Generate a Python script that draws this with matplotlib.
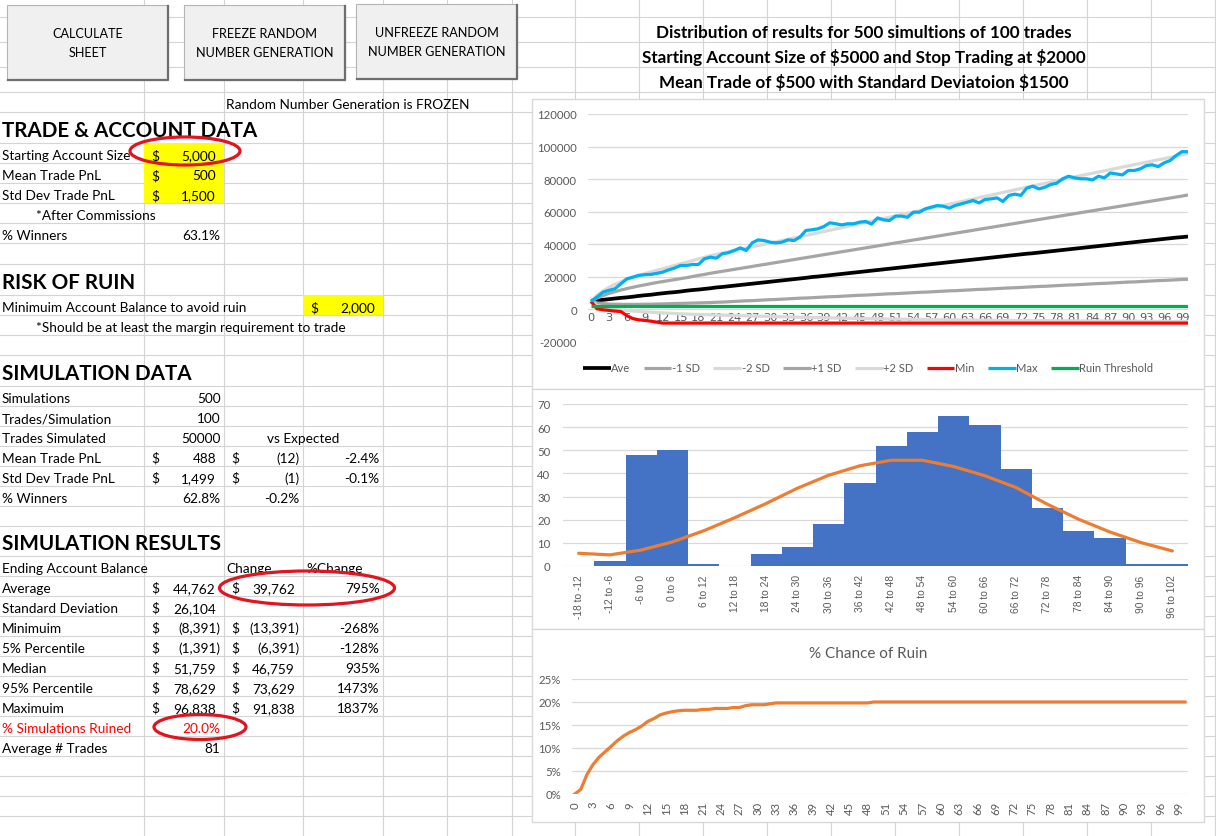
import matplotlib
matplotlib.use("Agg")
import matplotlib.pyplot as plt
from matplotlib.patches import Rectangle, Ellipse

plt.rcParams["text.parse_math"] = False

# ------------------------------------------------------------------ data
trade_num = list(range(101))
ave = [5000, 5500, 5900, 6300, 6700, 7100, 7400, 7800, 8300, 8700,
       9000, 9500, 9900, 10300, 10600, 11000, 11500, 11900, 12200, 12600,
       13000, 13500, 13800, 14200, 14600, 15000, 15400, 15800, 16200, 16600,
       17000, 17400, 17800, 18200, 18600, 19000, 19400, 19900, 20200, 20600,
       21000, 21400, 21800, 22200, 22600, 23000, 23400, 23800, 24200, 24600,
       25000, 25400, 25800, 26200, 26600, 27000, 27400, 27800, 28200, 28600,
       29000, 29400, 29800, 30200, 30600, 31000, 31400, 31800, 32200, 32600,
       33000, 33400, 33800, 34200, 34500, 34900, 35300, 35700, 36100, 36500,
       36900, 37300, 37700, 38100, 38500, 38900, 39300, 39700, 40100, 40500,
       40900, 41300, 41700, 42100, 42500, 42900, 43300, 43700, 44100, 44400,
       44762]
minus_1sd = [5000, 4000, 3600, 3300, 3200, 3100, 3100, 3100, 3100, 3200,
             3200, 3300, 3400, 3500, 3600, 3700, 3800, 3900, 4000, 4100,
             4200, 4400, 4500, 4700, 4900, 5100, 5300, 5400, 5600, 5800,
             6000, 6100, 6300, 6500, 6700, 6900, 7000, 7200, 7400, 7600,
             7800, 7900, 8100, 8300, 8500, 8700, 8800, 9000, 9200, 9400,
             9600, 9700, 9900, 10100, 10300, 10500, 10600, 10800, 11000, 11200,
             11400, 11500, 11700, 11900, 12100, 12300, 12400, 12600, 12800, 13000,
             13200, 13300, 13500, 13700, 13900, 14100, 14200, 14400, 14600, 14800,
             15000, 15100, 15300, 15500, 15700, 15900, 16000, 16200, 16400, 16600,
             16800, 16900, 17100, 17300, 17500, 17700, 17800, 18000, 18200, 18400,
             18500]
minus_2sd = [5000, 2500, 1400, 600, 0, -400, -700, -1000, -1300, -1500,
             -1700, -1900, -2100, -2300, -2500, -2700, -2800, -3000, -3100, -3200,
             -3300, -3400, -3500, -3600, -3700, -3800, -3900, -4000, -4100, -4200,
             -4300, -4400, -4500, -4600, -4700, -4800, -4900, -5000, -5000, -5100,
             -5200, -5300, -5300, -5400, -5500, -5500, -5600, -5700, -5700, -5800,
             -5900, -5900, -6000, -6000, -6100, -6100, -6200, -6200, -6300, -6300,
             -6400, -6400, -6500, -6500, -6500, -6600, -6600, -6600, -6700, -6700,
             -6700, -6800, -6800, -6800, -6900, -6900, -6900, -6900, -7000, -7000,
             -7000, -7000, -7100, -7100, -7100, -7100, -7100, -7200, -7200, -7200,
             -7200, -7200, -7300, -7300, -7300, -7300, -7300, -7300, -7400, -7400,
             -7400]
plus_1sd = [5000, 7000, 8500, 9800, 10900, 11900, 12800, 13600, 14400, 15100,
            15800, 16500, 17100, 17700, 18300, 18900, 19500, 20200, 20900, 21500,
            22200, 22800, 23400, 24000, 24600, 25200, 25800, 26400, 27000, 27600,
            28200, 28800, 29400, 30000, 30600, 31200, 31800, 32400, 33000, 33600,
            34200, 34800, 35400, 36000, 36600, 37200, 37800, 38400, 39000, 39600,
            40200, 40800, 41400, 42000, 42600, 43200, 43800, 44400, 45000, 45600,
            46200, 46800, 47400, 48000, 48600, 49200, 49800, 50400, 51000, 51600,
            52200, 52800, 53400, 54000, 54600, 55200, 55800, 56400, 57000, 57600,
            58200, 58800, 59400, 60000, 60600, 61200, 61800, 62400, 63000, 63600,
            64200, 64800, 65400, 66000, 66600, 67200, 67800, 68400, 69000, 69600,
            70300]
plus_2sd = [5000, 8600, 11300, 13500, 15400, 17000, 18400, 19700, 20900, 22000,
            23000, 24000, 25000, 26000, 27000, 28000, 29000, 30000, 31000, 32000,
            33000, 33800, 34600, 35400, 36100, 36900, 37700, 38500, 39200, 40000,
            40800, 41500, 42300, 43100, 43900, 44700, 45500, 46200, 47000, 47800,
            48600, 49400, 50200, 51000, 51800, 52600, 53400, 54200, 55000, 55800,
            56600, 57400, 58200, 59000, 59800, 60600, 61400, 62200, 63000, 63800,
            64600, 65400, 66200, 67000, 67800, 68600, 69400, 70200, 71000, 71800,
            72600, 73400, 74200, 75000, 75800, 76600, 77400, 78200, 79000, 79800,
            80600, 81400, 82100, 82900, 83600, 84400, 85100, 85900, 86600, 87400,
            88100, 88900, 89600, 90400, 91100, 91900, 92600, 93400, 94100, 94900,
            95700]
min_bal = [5000, 400, -200, -600, -1000, -1300, -3800, -5600, -6400, -6700,
           -7200, -7800, -8391, -8391, -8391, -8391, -8391, -8391, -8391, -8391,
           -8391, -8391, -8391, -8391, -8391, -8391, -8391, -8391, -8391, -8391,
           -8391, -8391, -8391, -8391, -8391, -8391, -8391, -8391, -8391, -8391,
           -8391, -8391, -8391, -8391, -8391, -8391, -8391, -8391, -8391, -8391,
           -8391, -8391, -8391, -8391, -8391, -8391, -8391, -8391, -8391, -8391,
           -8391, -8391, -8391, -8391, -8391, -8391, -8391, -8391, -8391, -8391,
           -8391, -8391, -8391, -8391, -8391, -8391, -8391, -8391, -8391, -8391,
           -8391, -8391, -8391, -8391, -8391, -8391, -8391, -8391, -8391, -8391,
           -8391, -8391, -8391, -8391, -8391, -8391, -8391, -8391, -8391, -8391,
           -8391]
max_bal = [5000, 7600, 10600, 11700, 12700, 15700, 18800, 19800, 20900, 21300,
           21500, 22100, 22900, 24300, 25400, 27000, 27000, 27600, 27600, 31100,
           32100, 31500, 34200, 34800, 36200, 37800, 36200, 40900, 42700, 42300,
           41300, 40900, 41300, 42700, 42300, 44400, 48500, 48900, 49500, 50900,
           53200, 52600, 51900, 52600, 52600, 53600, 54000, 52400, 56200, 55000,
           54600, 57300, 57300, 56600, 59700, 59700, 61800, 62800, 63800, 63400,
           62200, 63800, 64800, 65800, 66900, 65400, 67500, 67900, 68500, 66300,
           70000, 70800, 70000, 74500, 75700, 74000, 75000, 76700, 77500, 80200,
           81800, 80800, 80200, 80200, 79500, 81800, 80800, 83800, 83200, 82600,
           85300, 85300, 86300, 88300, 88800, 87700, 90000, 91400, 94500, 96900,
           96838]
ruin_level = 2000
series_names = ["Ave", "-1 SD", "-2 SD", "+1 SD", "+2 SD", "Min", "Max", "Ruin Threshold"]
series_colors = ["#000000", "#a5a5a5", "#d9d9d9", "#a5a5a5", "#d9d9d9", "#ff0000", "#00b0f0", "#00b050"]

hist_bins = ["-18 to -12", "-12 to -6", "-6 to 0", "0 to 6", "6 to 12", "12 to 18",
             "18 to 24", "24 to 30", "30 to 36", "36 to 42", "42 to 48", "48 to 54",
             "54 to 60", "60 to 66", "66 to 72", "72 to 78", "78 to 84", "84 to 90",
             "90 to 96", "96 to 102"]
hist_counts = [0, 2, 48, 50, 1, 0, 5, 8, 18, 36, 52, 58, 65, 61, 42, 25, 15, 12, 1, 1]
hist_normal = [5.5, 4.8, 6.9, 10.4, 15.2, 20.9, 27.0, 33.6, 39.2, 43.3,
               45.7, 45.7, 43.0, 39.0, 33.9, 26.7, 20.2, 14.7, 10.1, 6.5]

ruin_pct = [0.000, 0.010, 0.042, 0.064, 0.080, 0.092, 0.104, 0.116, 0.126, 0.134,
            0.140, 0.148, 0.158, 0.164, 0.172, 0.176, 0.179, 0.181, 0.182, 0.182,
            0.182, 0.184, 0.184, 0.186, 0.186, 0.186, 0.188, 0.188, 0.192, 0.194,
            0.194, 0.194, 0.196, 0.198, 0.198, 0.198, 0.198, 0.198, 0.198, 0.198,
            0.198, 0.198, 0.198, 0.198, 0.198, 0.198, 0.198, 0.198, 0.198, 0.200,
            0.200, 0.200, 0.200, 0.200, 0.200, 0.200, 0.200, 0.200, 0.200, 0.200,
            0.200, 0.200, 0.200, 0.200, 0.200, 0.200, 0.200, 0.200, 0.200, 0.200,
            0.200, 0.200, 0.200, 0.200, 0.200, 0.200, 0.200, 0.200, 0.200, 0.200,
            0.200, 0.200, 0.200, 0.200, 0.200, 0.200, 0.200, 0.200, 0.200, 0.200,
            0.200, 0.200, 0.200, 0.200, 0.200, 0.200, 0.200, 0.200, 0.200, 0.200,
            0.200]
ruin_title = "% Chance of Ruin"

buttons = ["CALCULATE\nSHEET", "FREEZE RANDOM\nNUMBER GENERATION", "UNFREEZE RANDOM\nNUMBER GENERATION"]
status_text = "Random Number Generation is FROZEN"
title_lines = ["Distribution of results for 500 simultions of 100 trades",
               "Starting Account Size of $5000 and Stop Trading at $2000",
               "Mean Trade of $500 with Standard Deviatoion $1500"]

headers = ["TRADE & ACCOUNT DATA", "RISK OF RUIN", "SIMULATION DATA", "SIMULATION RESULTS"]
trade_labels = ["Starting Account Size", "Mean Trade PnL", "Std Dev Trade PnL"]
trade_inputs = ["5,000", "500", "1,500"]
commission_note = "*After Commissions"
winners_label, winners_value = "% Winners", "63.1%"
ruin_label, ruin_input = "Minimuim Account Balance to avoid ruin", "2,000"
margin_note = "*Should be at least the margin requirement to trade"
sim_labels = ["Simulations", "Trades/Simulation", "Trades Simulated",
              "Mean Trade PnL", "Std Dev Trade PnL", "% Winners"]
sim_values = ["500", "100", "50000", "$488", "$1,499", "62.8%"]
sim_vs_amount = [None, None, None, "$(12)", "$(1)", "-0.2%"]
sim_vs_pct = [None, None, None, "-2.4%", "-0.1%", None]
vs_expected = "vs Expected"
res_head = ["Ending Account Balance", "Change", "%Change"]
res_labels = ["Average", "Standard Deviation", "Minimuim", "5% Percentile",
              "Median", "95% Percentile", "Maximuim"]
res_values = ["44,762", "26,104", "(8,391)", "(1,391)", "51,759", "78,629", "96,838"]
res_change = ["39,762", None, "(13,391)", "(6,391)", "46,759", "73,629", "91,838"]
res_pct = ["795%", None, "-268%", "-128%", "935%", "1473%", "1837%"]
ruined_label, ruined_value = "% Simulations Ruined", "20.0%"
avgtr_label, avgtr_value = "Average # Trades", "81"

# ------------------------------------------------------------------ layout
W, H = 1216, 837
FONT = "Lato"
FS = 9.8
GRID = "#d4d4d4"
TXT = "#595959"
TICK = 8.2
fig = plt.figure(figsize=(W / 100, H / 100), dpi=100)
sheet = fig.add_axes([0, 0, 1, 1])
sheet.set_xlim(0, W)
sheet.set_ylim(H, 0)
sheet.axis("off")

cols = [144, 224, 303, 383, 447, 512, 575, 639, 703, 767, 831, 895, 959, 1023, 1087, 1151, 1215]
rows = [18, 43, 68, 93, 113, 144, 164, 184, 204, 224, 244, 265, 296, 316, 336, 356, 387,
        407, 427, 447, 467, 487, 507, 527, 557, 577, 597, 617, 637, 657, 677, 697, 717,
        737, 757, 777, 797, 817]
for c in cols:
    sheet.plot([c, c], [0, H], color=GRID, lw=0.8, zorder=1)
for r in rows:
    sheet.plot([0, W], [r, r], color=GRID, lw=0.8, zorder=1)

# yellow input cells
sheet.add_patch(Rectangle((144, 144), 80, 60, facecolor="#ffff00", edgecolor="none", zorder=2))
sheet.add_patch(Rectangle((303, 296), 80, 20, facecolor="#ffff00", edgecolor="none", zorder=2))

# buttons
btn_boxes = [(7, 6, 168, 81), (184, 6, 345, 81), (356, 5, 517, 80)]
for (x0, y0, x1, y1), lab in zip(btn_boxes, buttons):
    sheet.add_patch(Rectangle((x0, y0), x1 - x0, y1 - y0, facecolor="#f0f0f0",
                              edgecolor="#b4b4b4", lw=0.8, zorder=3))
    sheet.plot([x0 + 1, x1, x1], [y1, y1, y0 + 1], color="#6e6e6e", lw=1.6, zorder=4)
    sheet.text((x0 + x1) / 2, (y0 + y1) / 2 - 0.5, lab, ha="center", va="center",
               fontsize=9.1, family=FONT, linespacing=1.7, zorder=5)


def put(x, y, s, ha="left", size=FS, weight="normal", color="black"):
    sheet.text(x, y, s, ha=ha, va="baseline", fontsize=size, fontweight=weight,
               color=color, family=FONT, zorder=6)


def money(cl, cr, base, val, color="black"):
    # accounting style: '$' at left, number at right
    if val.startswith("$"):
        val = val[1:]
    put(cl + 7, base, "$", color=color)
    if val.endswith(")") or val.endswith("%"):
        put(cr - 3.5, base, val, ha="right", color=color)
    else:
        put(cr - 8, base, val, ha="right", color=color)


def plain(cr, base, val, color="black"):
    put(cr - 3.5, base, val, ha="right", color=color)


# title lines
for i, line in enumerate(title_lines):
    put(864, rows[i + 1] - 5, line, ha="center", size=12.3, weight="bold")
put(226, 113 - 4, status_text)

HS = 14.9
put(2, 144 - 7, headers[0], size=HS, weight="bold")
for i, (lab, val) in enumerate(zip(trade_labels, trade_inputs)):
    b = 164 + 20 * i - 4
    put(2, b, lab)
    money(144, 224, b, "$" + val)
put(35.5, 224 - 4, commission_note)
put(2, 244 - 4, winners_label)
plain(224, 244 - 4, winners_value)

put(2, 296 - 7, headers[1], size=HS, weight="bold")
put(2, 316 - 4, ruin_label)
money(303, 383, 316 - 4, "$" + ruin_input)
put(35.5, 336 - 4, margin_note)

put(2, 387 - 7, headers[2], size=HS, weight="bold")
for i, lab in enumerate(sim_labels):
    b = 407 + 20 * i - 4
    put(2, b, lab)
    v = sim_values[i]
    if v.startswith("$"):
        money(144, 224, b, v)
    else:
        plain(224, b, v)
    a = sim_vs_amount[i]
    if a is not None:
        if a.startswith("$"):
            money(224, 303, b, a)
        else:
            plain(303, b, a)
    p = sim_vs_pct[i]
    if p is not None:
        plain(383, b, p)
put(303.5, 447 - 4, vs_expected, ha="center")

put(2, 557 - 7, headers[3], size=HS, weight="bold")
put(2, 577 - 4, res_head[0])
put(226, 577 - 4, res_head[1])
put(306, 577 - 4, res_head[2])
for i, lab in enumerate(res_labels):
    b = 597 + 20 * i - 4
    put(2, b, lab)
    money(144, 224, b, res_values[i])
    if res_change[i] is not None:
        money(224, 303, b, res_change[i])
    if res_pct[i] is not None:
        plain(383, b, res_pct[i])
put(2, 737 - 4, ruined_label, color="#ff0000")
plain(224, 737 - 4, ruined_value, color="#ff0000")
put(2, 757 - 4, avgtr_label)
plain(224, 757 - 4, avgtr_value)

# red hand-drawn ellipses
for (cx, cy, w, h) in [(185, 152, 110, 28), (307, 589, 175, 34), (200, 728, 92, 25)]:
    sheet.add_patch(Ellipse((cx, cy), w, h, fill=False, edgecolor="#e0151f", lw=2.3, zorder=7))

# chart boxes
for (y0, y1) in [(100, 390), (390, 630), (630, 823)]:
    sheet.add_patch(Rectangle((532, y0), 1204 - 532, y1 - y0, facecolor="white",
                              edgecolor="#d9d9d9", lw=1.0, zorder=8))


def px_axes(x0, y0, x1, y1):
    ax = fig.add_axes([x0 / W, 1 - y1 / H, (x1 - x0) / W, (y1 - y0) / H])
    ax.set_facecolor("none")
    for s in ax.spines.values():
        s.set_visible(False)
    ax.grid(axis="y", color="#d9d9d9", lw=0.9)
    ax.set_axisbelow(True)
    ax.tick_params(length=0, labelsize=TICK, labelcolor=TXT)
    return ax


# ---- chart 1: balance paths
ax1 = px_axes(588, 115, 1188, 343)
series = [ave, minus_1sd, minus_2sd, plus_1sd, plus_2sd, min_bal, max_bal,
          [ruin_level] * len(trade_num)]
handles = []
for vals, name, col in zip(series, series_names, series_colors):
    h, = ax1.plot(trade_num, vals, color=col, lw=2.3 if name != "Ave" else 2.7,
                  label=name, solid_capstyle="butt")
    handles.append(h)
ax1.set_xlim(-0.5, 100)
ax1.set_ylim(-20000, 120000)
ax1.set_yticks(range(-20000, 120001, 20000))
ax1.set_yticklabels([str(v) for v in range(-20000, 120001, 20000)], family=FONT)
ax1.set_xticks(trade_num[::3])
ax1.set_xticklabels([str(v) for v in trade_num[::3]], rotation=90, family=FONT)
ax1.spines["bottom"].set_position(("data", 0))
ax1.tick_params(axis="x", pad=2)
ax1.tick_params(axis="y", pad=8)
leg = fig.legend(handles, series_names, loc="center", bbox_to_anchor=(868 / W, 1 - 369 / H),
                 ncol=8, frameon=False, handlelength=2.5, handletextpad=0.05,
                 columnspacing=1.2, prop={"family": FONT, "size": 8.0})
for t in leg.get_texts():
    t.set_color(TXT)

# ---- chart 2: histogram of ending balances
ax2 = px_axes(563, 405, 1188, 567)
xpos = list(range(len(hist_bins)))
ax2.bar(xpos, hist_counts, width=1.0, color="#4472c4", zorder=2)
ax2.plot(xpos, hist_normal, color="#ed7d31", lw=2.3, zorder=3, solid_capstyle="round")
ax2.set_xlim(-0.5, len(hist_bins) - 0.5)
ax2.set_ylim(0, 70)
ax2.set_yticks(range(0, 71, 10))
ax2.set_yticklabels([str(v) for v in range(0, 71, 10)], family=FONT)
ax2.set_xticks(xpos)
ax2.set_xticklabels(hist_bins, rotation=90, family="Liberation Sans", fontsize=7.4)
ax2.tick_params(axis="x", pad=6)
ax2.tick_params(axis="y", pad=9)

# ---- chart 3: % chance of ruin
ax3 = px_axes(572, 680, 1188, 795)
ax3.plot(trade_num, ruin_pct, color="#ed7d31", lw=2.3)
ax3.set_xlim(-0.44, 100.5)
ax3.set_ylim(0, 0.25)
yt = [0, 0.05, 0.10, 0.15, 0.20, 0.25]
ax3.set_yticks(yt)
ax3.set_yticklabels(["%d%%" % round(v * 100) for v in yt], family=FONT)
ax3.set_xticks(trade_num[::3])
ax3.set_xticklabels([str(v) for v in trade_num[::3]], rotation=90, family=FONT)
ax3.tick_params(axis="x", pad=5)
ax3.tick_params(axis="y", pad=8)
fig.text(868 / W, 1 - 654 / H, ruin_title, ha="center", va="center",
         fontsize=11, color=TXT, family=FONT)

fig.savefig("out.png", dpi=100)
